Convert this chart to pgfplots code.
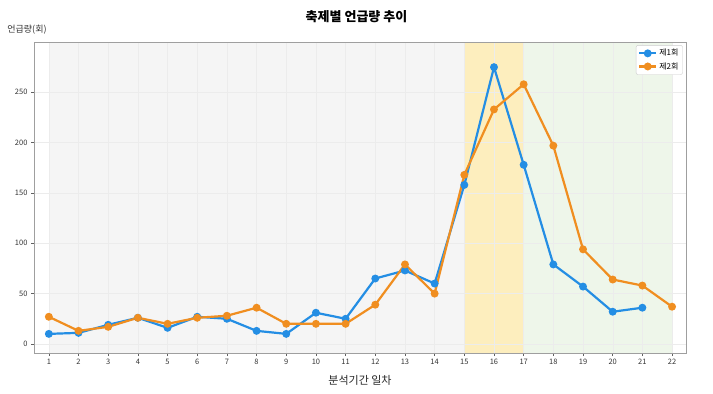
\documentclass[border=0pt]{standalone}
\usepackage{fontspec}
\setmainfont{Noto Sans CJK KR}
\usepackage{pgfplots}
\pgfplotsset{compat=1.18}
\definecolor{sblue}{RGB}{36,142,228}
\definecolor{sorange}{RGB}{240,142,32}
\definecolor{bggray}{RGB}{245,245,245}
\definecolor{bgyellow}{RGB}{253,238,190}
\definecolor{bggreen}{RGB}{238,246,234}
\begin{document}
\begin{tikzpicture}[x=1pt,y=1pt]
\path (0,0) rectangle (713,394);
\begin{axis}[
  set layers=standard,
  at={(34pt,41pt)}, anchor=south west,
  scale only axis, width=652pt, height=311pt,
  xmin=0.5, xmax=22.47, ymin=-9, ymax=300,
  xtick={1,...,22}, ytick={0,50,100,150,200,250},
  grid=major, grid style={gray!15, line width=0.4pt},
  axis line style={gray!75, line width=0.9pt},
  tick style={gray!75!black, line width=0.5pt},
  tick align=outside, major tick length=3pt,
  xtick pos=bottom, ytick pos=left,
  /pgf/number format/assume math mode=true,
  ticklabel style={font=\fontsize{7.5}{8}\selectfont, text=black!80},
  legend style={font=\fontsize{8}{9}\selectfont, draw=gray!40, rounded corners=2pt, fill=white, inner sep=2pt, row sep=1pt, at={(0.995,0.99)}, anchor=north east},
  legend cell align=left,
]
\begin{pgfonlayer}{axis background}
\fill[bggray] (axis cs:1,-9) rectangle (axis cs:15,300);
\fill[bgyellow] (axis cs:15,-9) rectangle (axis cs:17,300);
\fill[bggreen] (axis cs:17,-9) rectangle (axis cs:22,300);
\end{pgfonlayer}
\addplot[sblue, line width=2.2pt, mark=*, mark size=2.8pt] coordinates {
(1,10)(2,11)(3,19)(4,26)(5,16)(6,27)(7,25)(8,13)(9,10)(10,31)(11,25)(12,65)(13,73)(14,60)(15,158)(16,275)(17,178)(18,79)(19,57)(20,32)(21,36)};
\addlegendentry{제1회}
\addplot[sorange, line width=2.2pt, mark=*, mark size=2.8pt] coordinates {
(1,27)(2,13)(3,17)(4,26)(5,20)(6,26)(7,28)(8,36)(9,20)(10,20)(11,20)(12,39)(13,79)(14,50)(15,168)(16,233)(17,258)(18,197)(19,94)(20,64)(21,58)(22,37)};
\addlegendentry{제2회}
\end{axis}
\node[font=\fontsize{13}{15}\selectfont\bfseries] at (356.5,377) {축제별 언급량 추이};
\node[font=\fontsize{9}{10}\selectfont, text=black!80] at (27,364) {언급량(회)};
\node[font=\fontsize{11}{12}\selectfont, text=black!85] at (360,14) {분석기간 일차};
\end{tikzpicture}
\end{document}
